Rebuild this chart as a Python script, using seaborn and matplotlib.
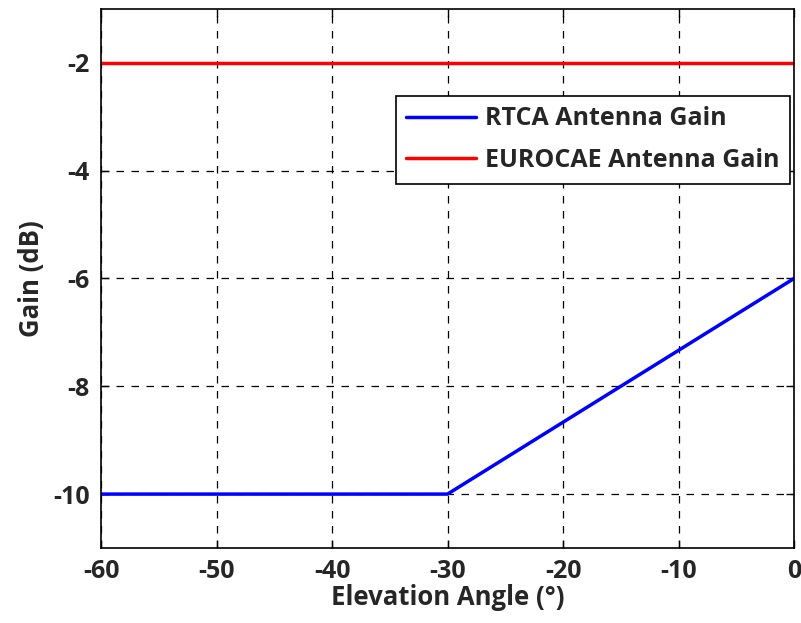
import matplotlib
matplotlib.use("Agg")
import matplotlib.pyplot as plt
import seaborn as sns
import pandas as pd

rtca_angle = [-60, -50, -40, -30, -27, -24, -21, -18, -15, -12, -9, -6, -3, 0]
rtca_gain = [-10, -10, -10, -10, -9.6, -9.2, -8.8, -8.4, -8.0, -7.6, -7.2, -6.8, -6.4, -6.0]
euro_angle = [-60, 0]
euro_gain = [-2, -2]
x_ticks = [-60, -50, -40, -30, -20, -10, 0]
y_ticks = [-10, -8, -6, -4, -2]

sns.set_theme(style="white")
plt.rcParams['font.family'] = ['Open Sans', 'DejaVu Sans']
plt.rcParams['font.weight'] = 'bold'

fig = plt.figure(figsize=(8.01, 6.23), dpi=100)
ax = fig.add_axes([0.1261, 0.1204, 0.8652, 0.8652])

df1 = pd.DataFrame({"x": rtca_angle, "y": rtca_gain})
df2 = pd.DataFrame({"x": euro_angle, "y": euro_gain})
sns.lineplot(data=df1, x="x", y="y", ax=ax, color="#0000ff", lw=2.5, label="RTCA Antenna Gain")
sns.lineplot(data=df2, x="x", y="y", ax=ax, color="#ff0000", lw=2.5, label="EUROCAE Antenna Gain")

ax.set_xlim(-60, 0)
ax.set_ylim(-11, -1)
ax.set_xticks(x_ticks)
ax.set_yticks(y_ticks)
ax.set_xticklabels([str(v) for v in x_ticks], fontsize=18, fontweight='bold')
ax.set_yticklabels([str(v) for v in y_ticks], fontsize=18, fontweight='bold')
ax.tick_params(direction='in', length=6, width=1, color='black', pad=8,
               bottom=True, top=True, left=True, right=True)
ax.grid(True, color='black', linestyle=(0, (6, 6)), linewidth=0.9)
for s in ax.spines.values():
    s.set_color('black')
    s.set_linewidth(1.2)
ax.set_xlabel("Elevation Angle (°)", fontsize=18.5, fontweight='bold', labelpad=0)
ax.set_ylabel("Gain (dB)", fontsize=18.5, fontweight='bold', labelpad=6)

leg = ax.legend(loc='upper right', bbox_to_anchor=(0.9942, 0.8386), borderaxespad=0,
                fontsize=18, frameon=True, fancybox=False, framealpha=1, edgecolor='black',
                handlelength=2.8, handletextpad=0.35, borderpad=0.42, labelspacing=0.67)
leg.get_frame().set_linewidth(1.2)
for t in leg.get_texts():
    t.set_fontweight('bold')

fig.savefig("out.png", dpi=100)
